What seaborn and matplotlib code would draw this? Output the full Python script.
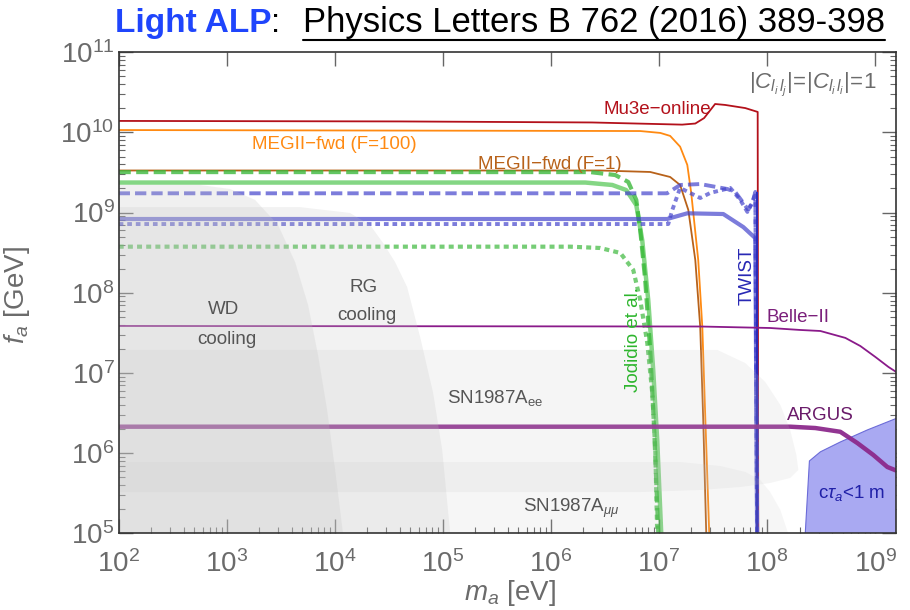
import numpy as np
import pandas as pd
import matplotlib
matplotlib.use("Agg")
import matplotlib.pyplot as plt
import seaborn as sns
from matplotlib.ticker import FixedLocator, LogLocator, FuncFormatter, NullFormatter
from matplotlib.lines import Line2D

# ---------------- data: ALP mass m_a [eV] vs. decay constant f_a [GeV] ----------------
mu3e_m = [1e2, 4.0e4, 2.4e6, 1.64e7, 2.17e7, 2.62e7, 3.31e7, 4.10e7, 6.30e7, 8.2e7, 8.3e7]
mu3e_f = [1.39e10, 1.37e10, 1.33e10, 1.25e10, 1.29e10, 1.51e10, 2.26e10, 2.20e10, 2.01e10, 1.80e10, 1e5]

megii100_m = [1e2, 6.7e6, 1.03e7, 1.27e7, 1.57e7, 1.83e7, 1.99e7, 2.31e7, 2.52e7, 2.69e7, 2.92e7]
megii100_f = [1.07e10, 1.04e10, 9.85e9, 9.04e9, 6.64e9, 3.93e9, 1.75e9, 2.56e8, 3.75e7, 2.59e6, 1e5]

megii1_m = [1e2, 2.86e6, 8.3e6, 1.27e7, 1.57e7, 1.87e7, 2.17e7, 2.41e7, 2.57e7, 2.74e7]
megii1_f = [3.35e9, 3.35e9, 3.21e9, 2.78e9, 2.21e9, 1.08e9, 2.56e8, 3.75e7, 2.59e6, 1e5]

jod_dash_m = [1e2, 2.31e6, 3.94e6, 5.2e6, 6.17e6, 6.71e6, 7.46e6, 8.3e6, 9.04e6, 9.86e6]
jod_dash_f = [3.2e9, 3.2e9, 2.94e9, 2.41e9, 1.44e9, 6.07e8, 1.45e8, 1.94e7, 1.95e6, 1e5]

jod_solid_m = [1e2, 2.08e6, 3.70e6, 4.98e6, 6.17e6, 7.0e6, 7.96e6, 8.85e6, 9.64e6, 1.05e7]
jod_solid_f = [2.37e9, 2.37e9, 2.21e9, 1.91e9, 1.24e9, 4.55e8, 8.13e7, 1.09e7, 1.46e6, 1e5]

jod_dot_m = [1e2, 1.51e6, 2.86e6, 4.39e6, 5.78e6, 6.71e6, 7.8e6, 8.67e6, 9.25e6, 9.64e6]
jod_dot_f = [3.76e8, 3.76e8, 3.62e8, 3.14e8, 1.93e8, 8.13e7, 2.37e7, 5.64e6, 1.10e6, 1e5]

twist_solid_m = [1e2, 1.19e7, 1.83e7, 3.94e7, 6.04e7, 7.8e7, 8.1e7]
twist_solid_f = [8.32e8, 8.32e8, 9.8e8, 9.6e8, 6.6e8, 4.8e8, 1e5]

twist_dash_m = [1e2, 1.19e7, 1.57e7, 2.41e7, 4.29e7, 5.08e7, 6.04e7, 6.71e7, 7.46e7, 7.8e7, 8.1e7]
twist_dash_f = [1.74e9, 1.74e9, 2.21e9, 2.27e9, 1.97e9, 1.81e9, 1.32e9, 1.08e9, 1.44e9, 1.81e9, 1e5]

twist_dot_m = [1e2, 1.22e7, 1.33e7, 1.57e7, 2.41e7, 2.99e7, 4.57e7, 5.66e7, 6.58e7, 7.31e7, 7.8e7, 8.1e7]
twist_dot_f = [7.2e8, 7.2e8, 1.08e9, 2.03e9, 1.52e9, 1.76e9, 2.03e9, 1.44e9, 1.02e9, 1.32e9, 1.76e9, 1e5]

twist_edge_m = [8.1e7, 8.1e7]
twist_edge_f = [1.8e9, 1e5]

belle_m = [1e2, 2.41e7, 1.07e8, 2.03e8, 3.12e8, 5.31e8, 7.31e8, 1.01e9, 1.33e9, 1.57e9]
belle_f = [3.86e7, 3.80e7, 3.64e7, 3.44e7, 3.34e7, 2.74e7, 2.17e7, 1.58e7, 1.19e7, 1.03e7]

argus_m = [1e2, 1.65e8, 2.80e8, 4.77e8, 6.85e8, 9.64e8, 1.30e9, 1.61e9]
argus_f = [2.14e6, 2.14e6, 2.06e6, 1.85e6, 1.34e6, 9.5e5, 6.73e5, 6.0e5]

# prompt-decay region  c*tau_a < 1 m
ctau_m = [2.26e8, 2.47e8, 3.12e8, 4.77e8, 8.49e8, 1.61e9, 1.61e9]
ctau_f = [1e5, 8.0e5, 1.04e6, 1.38e6, 1.95e6, 2.75e6, 1e5]

# astrophysical bounds
wd_m = [1e2, 566, 1074, 1829, 2985, 4290, 5660, 7000, 8490, 1.007e4, 1.19e4, 1e2]
wd_f = [2.21e9, 2.21e9, 1.97e9, 1.44e9, 7.0e8, 2.42e8, 7.05e7, 1.67e7, 3.46e6, 6.2e5, 1e5, 1e5]

rg_m = [1e2, 4775, 1.38e4, 2.12e4, 2.80e4, 3.61e4, 4.67e4, 6.16e4, 8.13e4, 9.86e4, 1.17e5, 1e2]
rg_f = [1.17e9, 1.17e9, 9.9e8, 7.0e8, 4.17e8, 2.42e8, 1.18e8, 2.81e7, 5.64e6, 1.10e6, 1e5, 1e5]

sn_ee_m = [1e2, 3.47e7, 6.3e7, 9.64e7, 1.33e8, 1.64e8, 1.87e8, 1.95e8, 1.64e8, 1.07e8, 5.66e7, 2.41e7, 6.71e6, 1e2]
sn_ee_f = [1.94e7, 1.94e7, 1.33e7, 7.73e6, 3.99e6, 1.95e6, 9.5e5, 6.18e5, 4.91e5, 4.25e5, 3.79e5, 3.48e5, 3.28e5, 3.28e5]

sn_mm_m = [1e2, 1.57e7, 3.69e7, 6.3e7, 8.67e7, 1.07e8, 1.33e8, 1.57e8, 1e2]
sn_mm_f = [7.76e5, 7.76e5, 6.92e5, 5.83e5, 4.64e5, 3.28e5, 1.96e5, 1e5, 1e5]

x_ticks = [10.0 ** k for k in range(2, 10)]
y_ticks = [10.0 ** k for k in range(5, 12)]

# ---------------- style ----------------
sns.set_theme(style="ticks")
plt.rcParams.update({
    "font.family": ["Liberation Sans", "DejaVu Sans"],
    "mathtext.fontset": "custom",
    "mathtext.rm": "Liberation Sans",
    "mathtext.it": "Liberation Sans:italic",
    "mathtext.bf": "Liberation Sans:bold",
    "mathtext.sf": "Liberation Sans",
})

W, H = 910, 610
fig = plt.figure(figsize=(W / 100, H / 100), dpi=100)
X0, X1, Y0, Y1 = 118.7, 896.0, 52.2, 533.4
ax = fig.add_axes([X0 / W, (H - Y1) / H, (X1 - X0) / W, (Y1 - Y0) / H])
ax.set_xscale("log")
ax.set_yscale("log")
ax.set_xlim(1e2, 10 ** 9.194)
ax.set_ylim(1e5, 1e11)


def draw(m, f, color, lw, ls="-", alpha=1.0, z=2):
    df = pd.DataFrame({"m": m, "f": f})
    sns.lineplot(data=df, x="m", y="f", ax=ax, sort=False, estimator=None,
                 color=color, lw=lw, linestyle=ls, alpha=alpha, zorder=z,
                 legend=False, solid_capstyle="butt", dash_capstyle="butt")


DASH = (0, (2.9, 1.3))
DOT = (0, (1.2, 1.0))

# prompt-decay region under the lines
ax.fill(ctau_m, ctau_f, facecolor="#a9a9f2", edgecolor="#6b6bd8", lw=0.8, zorder=1.5)

# laboratory bounds
draw(mu3e_m, mu3e_f, "#b3111b", 1.3)
draw(megii100_m, megii100_f, "#ff8a12", 1.3)
draw(megii1_m, megii1_f, "#b8621a", 1.3)
draw(jod_dash_m, jod_dash_f, "#3cb83c", 3.0, DASH, 0.8)
draw(jod_solid_m, jod_solid_f, "#33bb33", 3.2, "-", 0.6)
draw(jod_dot_m, jod_dot_f, "#3cb83c", 3.0, DOT, 0.7)
draw(twist_dash_m, twist_dash_f, "#4444cc", 2.8, DASH, 0.7)
draw(twist_solid_m, twist_solid_f, "#4444cc", 3.0, "-", 0.7)
draw(twist_dot_m, twist_dot_f, "#4444cc", 2.8, DOT, 0.7)
draw(twist_edge_m, twist_edge_f, "#2a2ab8", 1.4)
draw(belle_m, belle_f, "#8a1a8a", 1.3)
draw(argus_m, argus_f, "#8c2a8c", 3.2, "-", 0.95)

# astrophysical exclusions (translucent, drawn over the lines)
for xs, ys, a in [(wd_m, wd_f, 0.24), (rg_m, rg_f, 0.22),
                  (sn_ee_m, sn_ee_f, 0.16), (sn_mm_m, sn_mm_f, 0.14)]:
    ax.fill(xs, ys, facecolor="#c4c4c4", alpha=a, lw=0, zorder=3)

# ---------------- axes styling ----------------
ax.xaxis.set_major_locator(FixedLocator(x_ticks))
ax.yaxis.set_major_locator(FixedLocator(y_ticks))
ax.xaxis.set_minor_locator(LogLocator(base=10, subs=np.arange(2, 10), numticks=30))
ax.yaxis.set_minor_locator(LogLocator(base=10, subs=np.arange(2, 10), numticks=30))
fmt = FuncFormatter(lambda v, p: r"$\mathregular{10^{%d}}$" % round(np.log10(v)))
ax.xaxis.set_major_formatter(fmt)
ax.yaxis.set_major_formatter(fmt)
ax.xaxis.set_minor_formatter(NullFormatter())
ax.yaxis.set_minor_formatter(NullFormatter())

GRAY = "#6b6b6b"
ax.tick_params(which="both", direction="in", top=True, right=True,
               color="#666666", labelcolor=GRAY, labelsize=20)
ax.tick_params(which="major", length=10, width=1.0)
ax.tick_params(which="minor", length=4, width=0.8)
ax.tick_params(which="minor", top=False)
ax.tick_params(axis="x", pad=12)
ax.tick_params(axis="y", pad=3)
for s in ax.spines.values():
    s.set_color("#333333")
    s.set_linewidth(1.2)
    s.set_zorder(6)

ax.set_xlabel(r"$m_a$ [eV]", fontsize=20, color=GRAY)
ax.set_ylabel(r"$f_a$ [GeV]", fontsize=20, color=GRAY)
ax.xaxis.set_label_coords((510 - X0) / (X1 - X0), -(578 - Y1) / (Y1 - Y0))
ax.yaxis.set_label_coords((32 - X0) / (X1 - X0), (Y1 - 295) / (Y1 - Y0))


# ---------------- annotations (placed in axes fractions) ----------------
def at(px, py):
    return (px - X0) / (X1 - X0), (Y1 - py) / (Y1 - Y0)


def label(px, py, s, color, size=13.5, rot=0, ha="center"):
    x, y = at(px, py)
    ax.text(x, y, s, transform=ax.transAxes, color=color, fontsize=size,
            rotation=rot, ha=ha, va="center", zorder=7)


label(813, 84, r"$|C_{l_i\,l_j}|\!=\!|C_{l_i\,l_i}|\!=\!1$", GRAY, 16)
label(657, 110, "Mu3e\u2212online", "#b3111b")
label(334, 145, "MEGII\u2212fwd (F=100)", "#ff8a12")
label(550, 165, "MEGII\u2212fwd (F=1)", "#b8621a")
label(633, 340, "Jodidio et al.", "#2db52d", rot=90)
label(747, 276, "TWIST", "#2828b4", rot=90)
label(767, 318, "Belle\u2212II", "#7b1f7b", ha="left")
label(820, 416, "ARGUS", "#6a1b6a")
label(852, 493, r"c$\tau_a$<1 m", "#2020a8")
label(224, 310, "WD", "#555555")
label(227, 339, "cooling", "#555555")
label(364, 287, "RG", "#555555")
label(367, 316, "cooling", "#555555")
label(495, 398, r"SN1987A$_{\mathrm{ee}}$", "#555555")
label(571, 508, r"SN1987A$_{\mu\mu}$", "#555555")

# ---------------- title ----------------
base = 1 - 32 / H
t1 = fig.text(115 / W, base, "Light ALP", fontsize=24, fontweight="bold",
              color="#1f45fc", va="baseline")
t2 = fig.text(271 / W, base, ":", fontsize=24, color="black", va="baseline")
t3 = fig.text(303 / W, base, "Physics Letters B 762 (2016) 389-398", fontsize=24.9,
              color="black", va="baseline")
fig.canvas.draw()
bb = t3.get_window_extent(fig.canvas.get_renderer())
uy = 1 - 39.5 / H
fig.add_artist(Line2D([bb.x0 / W, bb.x1 / W], [uy, uy], color="black", lw=1.5,
                      transform=fig.transFigure))

fig.savefig("out.png", dpi=100)
